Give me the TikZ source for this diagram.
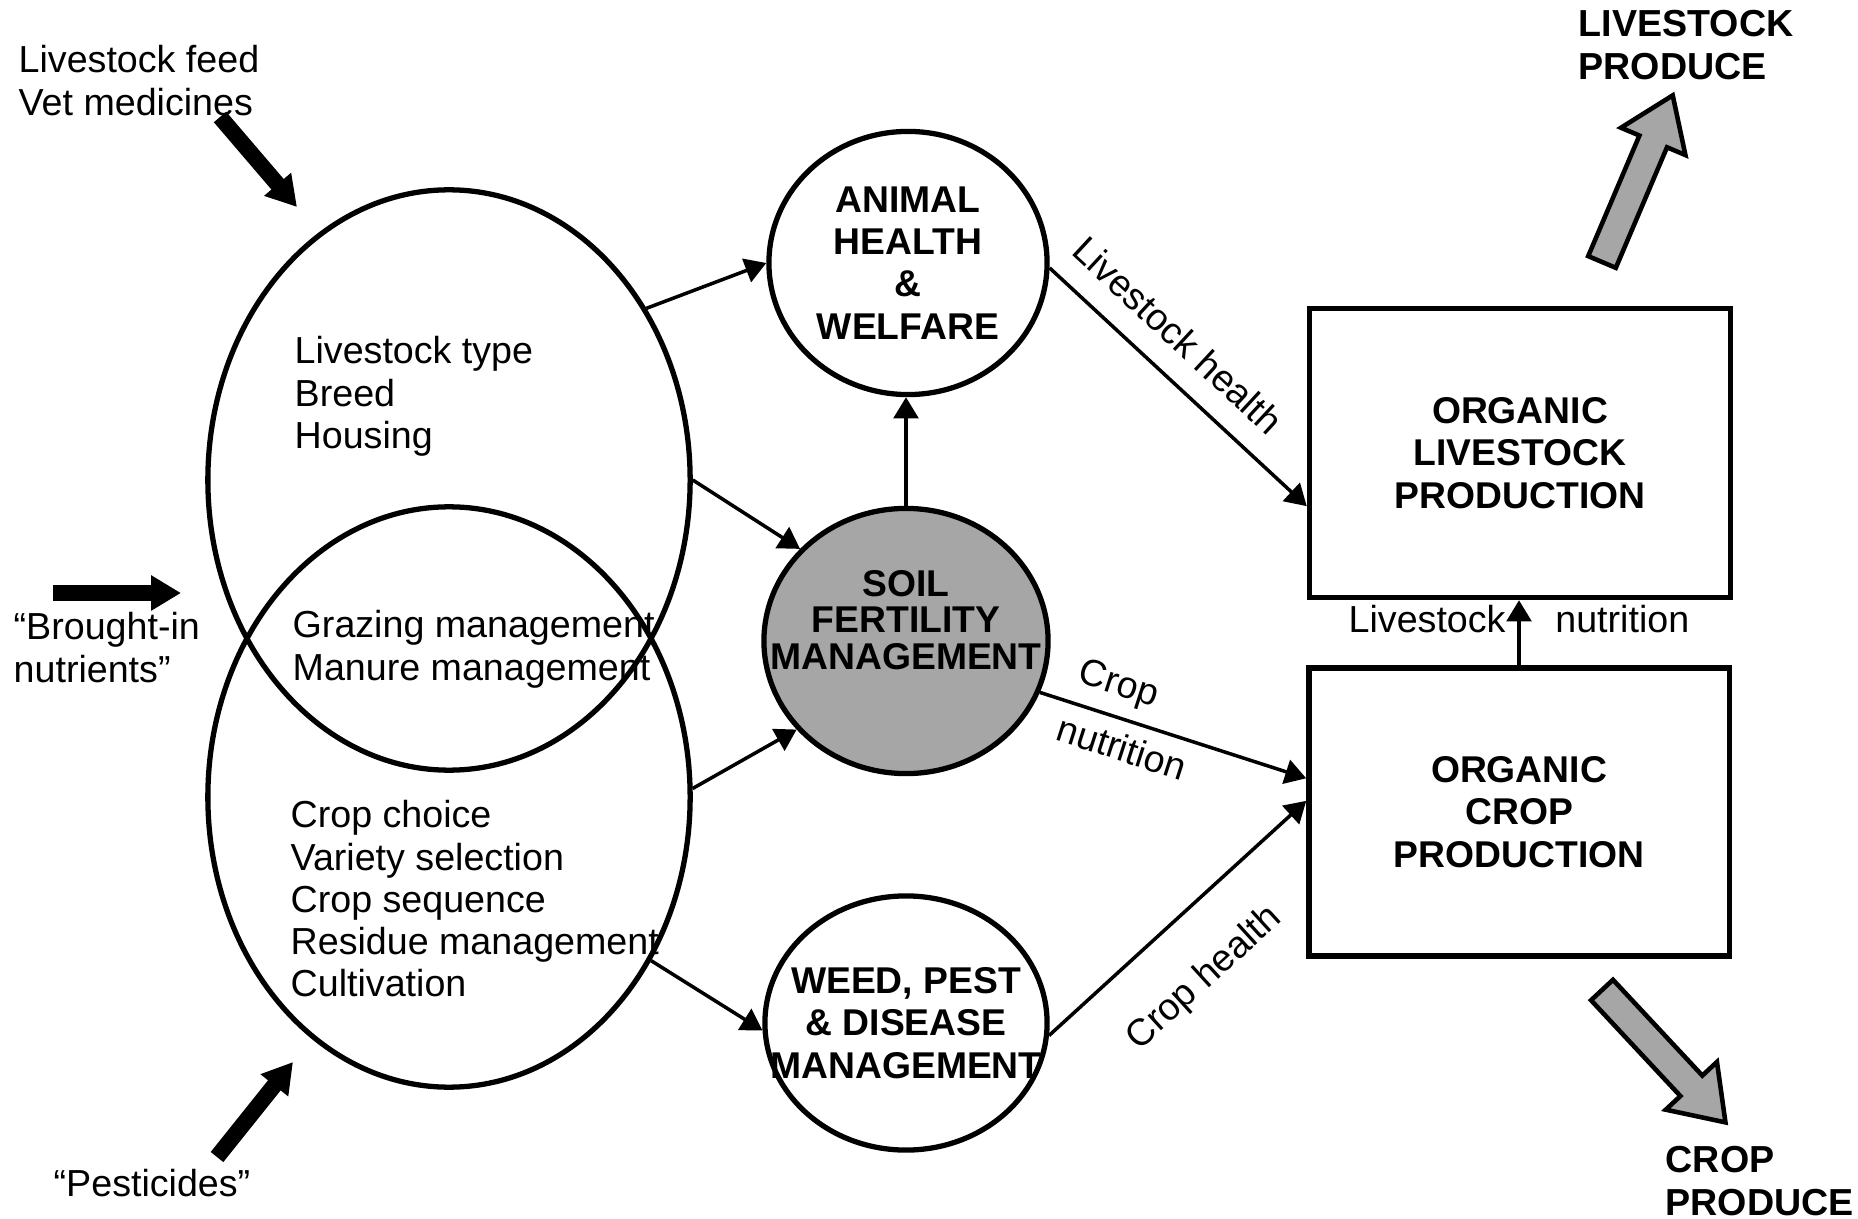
\documentclass[tikz,border=0pt]{standalone}
\usepackage{fontspec}
\setmainfont{Liberation Sans}
\usetikzlibrary{shapes.geometric,arrows.meta,calc}

\tikzset{
    zone/.style = {ellipse, draw, line width=1.5pt, inner sep=0pt},
    panel/.style = {rectangle, draw, line width=1.5pt, inner sep=0pt, align=center,
        font=\fontsize{10.6}{12}\selectfont\bfseries},
    caps/.style = {align=center, font=\fontsize{10.6}{12}\selectfont\bfseries},
    lines/.style = {align=left, inner sep=0pt, anchor=north west},
    flow/.style = {line width=1pt, -{Triangle[length=6pt,width=7pt]}},
    supply/.style = {line width=4.6pt, -{Triangle[length=8.5pt,width=9.5pt]}},
    produce/.style = {draw, line width=1.3pt, fill=black!35, line join=miter}
}

\begin{document}
\begin{tikzpicture}[x=0.01cm, y=-0.01cm, font=\fontsize{10.7}{12}\selectfont]
        %\draw [help lines] (0,0) rectangle (1858,1219);
        \useasboundingbox (0,0) rectangle (1858,1219);

        % the two overlapping management areas
        \node [zone, minimum width=4.82cm, minimum height=5.8cm] (herd) at (449,480) {};
        \node [zone, minimum width=4.82cm, minimum height=5.8cm] (crops) at (449,797) {};

        \node [lines] (herdlist) at (294,336) {Livestock type\\Breed\\Housing};
        \node [lines] (sharedlist) at (292,610) {Grazing management\\Manure management};
        \node [lines] (croplist) at (290,800) {Crop choice\\Variety selection\\Crop sequence\\Residue management\\Cultivation};

        % middle column, the text may run over the rim
        \node [zone, caps, inner xsep=-14pt, minimum width=2.78cm, minimum height=2.63cm] (ahw) at (908,263)
            {ANIMAL\\HEALTH\\\&\\WELFARE};
        \node [zone, caps, inner xsep=-14pt, text depth=12pt, fill=black!35, minimum width=2.84cm, minimum height=2.65cm,
            font=\fontsize{10.6}{10.3}\selectfont\bfseries] (soil) at (906,641) {SOIL\\FERTILITY\\MANAGEMENT};
        \node [zone, caps, inner xsep=-14pt, minimum width=2.82cm, minimum height=2.54cm] (wpd) at (906,1023)
            {WEED, PEST\\\& DISEASE\\MANAGEMENT};

        % production
        \node [panel, minimum width=4.21cm, minimum height=2.89cm] (olp) at (1520,453) {ORGANIC\\LIVESTOCK\\PRODUCTION};
        \node [panel, minimum width=4.20cm, minimum height=2.88cm] (ocp) at (1519,812) {ORGANIC\\CROP\\PRODUCTION};

        % inputs and outputs
        \node [lines] (feed) at (18,45) {Livestock feed\\Vet medicines};
        \node [lines] (broughtin) at (13,612) {“Brought-in\\nutrients”};
        \node [lines] (pest) at (53,1169) {“Pesticides”};
        \node [lines, font=\fontsize{10.7}{12}\selectfont\bfseries] (lvout) at (1578,10) {LIVESTOCK\\PRODUCE};
        \node [lines, font=\fontsize{10.7}{12}\selectfont\bfseries] (crout) at (1665,1146) {CROP\\PRODUCE};

        \coordinate (feedtail) at (220,117);
        \coordinate (feedtip) at (297,207);
        \coordinate (nutrtail) at (53,593);
        \coordinate (nutrtip) at (181,593);
        \coordinate (pesttail) at (217,1157);
        \coordinate (pesttip) at (293,1062);

        \draw [supply] (feedtail) -- (feedtip);
        \draw [supply] (nutrtail) -- (nutrtip);
        \draw [supply] (pesttail) -- (pesttip);

        \coordinate (lvtail) at (1602,262);
        \coordinate (crtail) at (1602,990);

        \draw [produce, shift={(lvtail)}, rotate=67] (0,-15) -- (131,-15) -- (131,-35) -- (181,0) -- (131,35) -- (131,15) -- (0,15) -- cycle;
        \draw [produce, shift={(crtail)}, rotate=-47] (0,-15) -- (131,-15) -- (131,-35) -- (181,0) -- (131,35) -- (131,15) -- (0,15) -- cycle;

        % flows
        \draw [flow] (herd.41) -- (ahw.west);
        \draw [flow] (herd.east) -- (soil.139);
        \draw [flow] (crops.2) -- (soil.219);
        \draw [flow] (crops.-39) -- (wpd.183);
        \draw [flow] (soil.north) -- (soil.north |- ahw.south);

        \draw [flow] (ahw.-2) -- node[pos=0.4, above=3pt, sloped] (lhlabel) {Livestock health} (olp.194);
        \draw [flow] (soil.-21) -- node[pos=0.26, above, sloped] (cnlabel) {Crop}
            node[pos=0.34, below, sloped] (cnlabel2) {nutrition} (ocp.171);
        \draw [flow] (wpd.-5) -- node[pos=0.44, below=9pt, sloped] (chlabel) {Crop health} (ocp.177);
        \draw [flow] (ocp.north) -- node[midway, left, yshift=4pt] (lnlabel) {Livestock}
            node[midway, right=6.5pt, yshift=4pt] (lnlabel2) {nutrition} (ocp.north |- olp.south);

\end{tikzpicture}
\end{document}
